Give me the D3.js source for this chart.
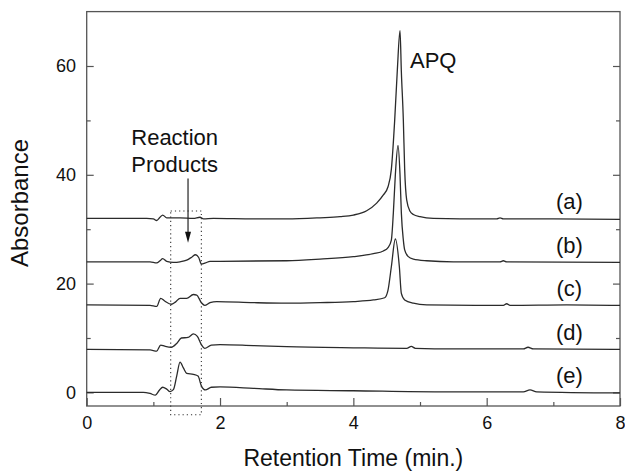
<!DOCTYPE html>
<html><head><meta charset="utf-8">
<script src="https://cdn.jsdelivr.net/npm/d3@7"></script>
<style>
html,body{margin:0;padding:0;background:#fff;}
text{font-family:"Liberation Sans",Arial,Helvetica,sans-serif;fill:#111;}
</style></head>
<body><svg id="c" width="625" height="472"></svg>
<script>
// ---- data (time in min, absorbance as plotted, with vertical offsets) ----
const traceA = [[0,32.0],[0.9,32.0],[1.0,31.9],[1.05,31.6],[1.1,32.2],[1.14,32.6],[1.2,32.1],[1.4,32.1],[1.6,32.0],[1.7,32.2],[1.75,31.9],[1.9,32.0],[2.5,31.9],[3.0,31.9],[3.5,32.1],[3.8,32.3],[4.0,32.6],[4.2,33.4],[4.35,34.8],[4.45,36.3],[4.52,37.8],[4.57,41.0],[4.62,50.0],[4.66,59.3],[4.70,66.5],[4.72,59.0],[4.75,50.0],[4.77,41.0],[4.80,35.4],[4.85,33.3],[4.9,32.7],[5.0,32.3],[5.2,32.0],[6.0,31.9],[6.15,31.9],[6.2,32.1],[6.25,31.9],[7.0,31.9],[8.0,31.8]];
const traceB = [[0,24.0],[0.95,24.0],[1.05,23.8],[1.1,24.2],[1.14,24.6],[1.2,24.1],[1.3,23.9],[1.4,24.0],[1.5,24.3],[1.58,24.9],[1.63,25.3],[1.68,24.8],[1.72,23.6],[1.78,23.8],[1.85,24.1],[2.0,24.1],[3.0,24.2],[3.5,24.5],[4.0,24.95],[4.3,25.5],[4.45,26.0],[4.52,26.6],[4.57,28.0],[4.60,33.0],[4.63,40.0],[4.67,45.4],[4.70,40.0],[4.72,33.0],[4.75,28.0],[4.77,26.2],[4.82,25.0],[4.9,24.5],[5.1,24.2],[5.5,24.0],[6.2,24.0],[6.25,24.2],[6.3,24.0],[8.0,23.9]];
const traceC = [[0,16.1],[0.95,16.0],[1.05,15.8],[1.11,17.3],[1.17,16.8],[1.27,16.2],[1.33,16.6],[1.40,17.3],[1.5,17.3],[1.6,18.0],[1.65,17.9],[1.72,16.5],[1.77,16.0],[1.85,16.5],[1.95,16.7],[2.5,16.5],[3.0,16.4],[3.5,16.5],[4.0,16.7],[4.3,17.0],[4.47,17.4],[4.52,18.8],[4.57,23.1],[4.63,28.2],[4.69,23.1],[4.72,18.2],[4.77,17.0],[4.9,16.4],[5.1,16.1],[6.0,16.0],[6.25,16.0],[6.3,16.3],[6.35,16.0],[7.2,16.1],[8.0,16.0]];
const traceD = [[0,7.9],[0.95,7.8],[1.05,7.6],[1.11,8.7],[1.17,8.5],[1.27,8.3],[1.35,9.0],[1.42,10.0],[1.52,10.1],[1.6,10.75],[1.66,10.3],[1.72,8.8],[1.77,8.1],[1.87,8.7],[2.0,8.8],[2.5,8.6],[3.0,8.4],[4.0,8.2],[4.8,8.1],[4.87,8.45],[4.93,8.1],[5.5,8.0],[6.55,8.0],[6.62,8.3],[6.7,8.0],[8.0,7.9]];
const traceE = [[0,0.0],[0.85,0.0],[0.95,-0.2],[1.03,-0.5],[1.09,0.4],[1.14,0.95],[1.2,0.6],[1.25,0.15],[1.3,0.5],[1.35,3.0],[1.40,5.55],[1.45,4.5],[1.5,3.5],[1.6,3.3],[1.67,3.0],[1.72,1.2],[1.78,0.45],[1.87,0.95],[2.0,1.0],[2.5,0.75],[3.0,0.45],[4.0,0.3],[5.3,0.1],[6.55,0.1],[6.65,0.45],[6.75,0.1],[8.0,-0.1]];
const traces = [traceA, traceB, traceC, traceD, traceE];
const traceLabels = ["(a)","(b)","(c)","(d)","(e)"];
const labelY = [35, 27, 19, 11, 3];
const labelX = 7.24;
const xMajorTicks = [0,2,4,6,8];
const xMinorTicks = [1,3,5,7];
const yMajorTicks = [0,20,40,60];
const yMinorTicks = [10,30,50];
const xTitle = "Retention Time (min.)";
const yTitle = "Absorbance";
const peakLabel = {text:"APQ", t:4.85, v:59.6};
const productLines = ["Reaction","Products"];
const productLabel = {t:1.32, v:[45.5, 40.5]};
const productBox = {t0:1.26, t1:1.72, v0:-4.1, v1:33.35};
const productArrow = {t:1.52, v0:39.3, v1:27.5};

// ---- layout ----
const L = 86.7, R = 620, T = 11.6, B = 406;
const svg = d3.select("#c");
const x = d3.scaleLinear().domain([0,8]).range([L,R]);
const y = d3.scaleLinear().domain([-2.5,70]).range([B,T]);
const axisColor = "#555";

function styleAxis(g){
  g.select(".domain").remove();
  g.selectAll(".tick line").attr("stroke",axisColor).attr("stroke-width",1.2);
  g.selectAll(".tick text").style("font-size","18px").style("font-family","'Liberation Sans',Arial,sans-serif").attr("fill","#111");
}
// bottom
svg.append("g").attr("transform",`translate(0,${B})`)
  .call(d3.axisBottom(x).tickValues(xMajorTicks).tickSize(-8).tickPadding(10.6).tickFormat(d3.format("d"))).call(styleAxis);
svg.append("g").attr("transform",`translate(0,${B})`)
  .call(d3.axisBottom(x).tickValues(xMinorTicks).tickSize(-4).tickFormat("")).call(styleAxis);
// left
svg.append("g").attr("transform",`translate(${L},0)`)
  .call(d3.axisLeft(y).tickValues(yMajorTicks).tickSize(-7).tickPadding(10.7).tickFormat(d3.format("d"))).call(styleAxis);
svg.append("g").attr("transform",`translate(${L},0)`)
  .call(d3.axisLeft(y).tickValues(yMinorTicks).tickSize(-4).tickFormat("")).call(styleAxis);
// right
svg.append("g").attr("transform",`translate(${R},0)`)
  .call(d3.axisRight(y).tickValues(yMajorTicks).tickSize(-7).tickFormat("")).call(styleAxis);
svg.append("g").attr("transform",`translate(${R},0)`)
  .call(d3.axisRight(y).tickValues(yMinorTicks).tickSize(-4).tickFormat("")).call(styleAxis);

// frame
svg.append("rect").attr("x",L).attr("y",T).attr("width",R-L).attr("height",B-T)
  .attr("fill","none").attr("stroke",axisColor).attr("stroke-width",1.3);

// traces
const line = d3.line().x(d=>x(d[0])).y(d=>y(d[1])).curve(d3.curveMonotoneX);
svg.append("g").selectAll("path").data(traces).join("path")
  .attr("d",line).attr("fill","none").attr("stroke","#2b2b2b").attr("stroke-width",1.3)
  .attr("stroke-linejoin","round");

// trace labels
svg.append("g").selectAll("text").data(traceLabels).join("text")
  .attr("x",x(labelX)).attr("y",(d,i)=>y(labelY[i])).attr("dy","0.32em")
  .attr("text-anchor","middle").style("font-size","22px").text(d=>d);

// APQ
svg.append("text").attr("x",x(peakLabel.t)).attr("y",y(peakLabel.v))
  .style("font-size","22px").text(peakLabel.text);

// Reaction products
svg.append("g").selectAll("text").data(productLines).join("text")
  .attr("x",x(productLabel.t)).attr("y",(d,i)=>y(productLabel.v[i]))
  .attr("text-anchor","middle").style("font-size","22px").text(d=>d);

svg.append("rect")
  .attr("x",x(productBox.t0)).attr("y",y(productBox.v1))
  .attr("width",x(productBox.t1)-x(productBox.t0)).attr("height",y(productBox.v0)-y(productBox.v1))
  .attr("fill","none").attr("stroke","#333").attr("stroke-width",1.1).attr("stroke-dasharray","1.2,3");

const ax = x(productArrow.t), ay0 = y(productArrow.v0), ay1 = y(productArrow.v1);
svg.append("line").attr("x1",ax).attr("x2",ax).attr("y1",ay0).attr("y2",ay1-8)
  .attr("stroke","#222").attr("stroke-width",1.2);
svg.append("path").attr("d",`M${ax-3},${ay1-11}L${ax+3},${ay1-11}L${ax},${ay1}Z`).attr("fill","#111");

// axis titles
svg.append("text").attr("x",(L+R)/2).attr("y",466).attr("text-anchor","middle")
  .style("font-size","23px").text(xTitle);
svg.append("text").attr("transform",`translate(28,203) rotate(-90)`).attr("text-anchor","middle")
  .style("font-size","24px").text(yTitle);
</script></body></html>
